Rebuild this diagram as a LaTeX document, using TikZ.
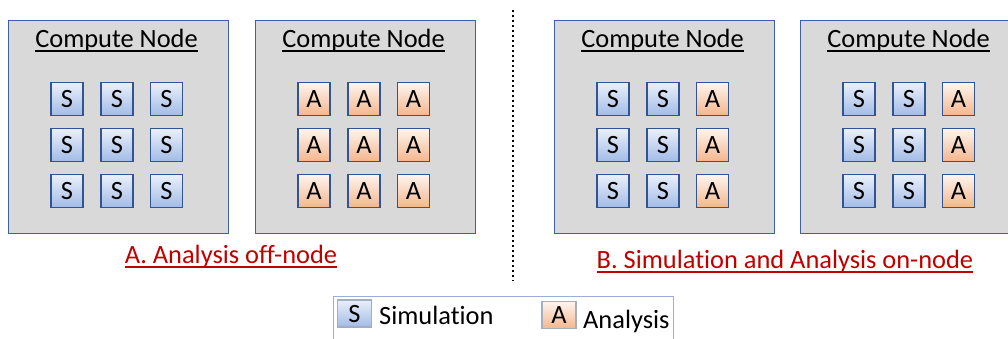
\documentclass[tikz,border=0pt]{standalone}
\usepackage{fontspec}
\setmainfont[Ligatures=NoCommon]{Carlito}
\usetikzlibrary{positioning}

\definecolor{boxgray}{HTML}{D9D9D9}
\definecolor{boxedge}{HTML}{3B61AD}
\definecolor{unitedge}{HTML}{2F5597}
\definecolor{simtop}{HTML}{EAF0FA}
\definecolor{simbot}{HTML}{A2BBE6}
\definecolor{anatop}{HTML}{FEF5F0}
\definecolor{anabot}{HTML}{F4B68C}
\definecolor{keyedge}{HTML}{9AAED6}
\definecolor{capred}{HTML}{C00000}

\newcommand{\cnfont}{\fontsize{26.4}{30}\selectfont}
\newcommand{\ulined}[2]{\setbox0\hbox{#2}\rlap{\rule[-#1]{\wd0}{1.6pt}}\box0}

\tikzset{
  computenode/.style={draw=boxedge, line width=1.2pt, fill=boxgray, anchor=north west,
    minimum width=220pt, minimum height=213pt, inner sep=0pt},
  cntitle/.style={font=\cnfont, anchor=base, inner sep=0pt},
  unit/.style={draw=unitedge, line width=1.1pt, minimum width=32pt, minimum height=33pt,
    inner sep=0pt, text height=17pt, text depth=0pt, font=\cnfont},
  unitS/.style={unit, top color=simtop, bottom color=simbot},
  unitA/.style={unit, top color=anatop, bottom color=anabot},
  keyunit/.style={minimum width=34pt, minimum height=27pt, draw=keyedge!80!black!70},
  keytext/.style={font=\cnfont, anchor=base west, inner sep=0pt},
  caption/.style={font=\cnfont, text=capred, anchor=base, inner sep=0pt},
  divider/.style={line width=2pt, dash pattern=on 2pt off 3pt},
  keyframe/.style={draw=keyedge, line width=1pt, anchor=north west, fill=white,
    minimum width=340pt, minimum height=70pt, inner sep=0pt}
}

\begin{document}
\begin{tikzpicture}[x=1pt,y=-1pt]
\useasboundingbox (0,0) rectangle (1008,339);
\clip (0,0) rectangle (1008,339);
\fill[white] (0,0) rectangle (1008,339);

% compute nodes with their units
\foreach \b/\xl/\ka/\kb/\kc in {1/8/S/S/S, 2/255/A/A/A, 3/554/S/S/A, 4/800/S/S/A}{
  \node[computenode] (cn\b) at (\xl,20) {};
  \node[cntitle] (title\b) at (\xl+108.5,48) {\ulined{4pt}{Compute Node}};
  \foreach \c/\dx/\k in {1/59/\ka, 2/109/\kb, 3/158.5/\kc}{
    \foreach \r/\y in {1/99, 2/145, 3/191}{
      \node[unit\k] (u-\b-\r-\c) at (\xl+\dx,\y) {\k};
    }
  }
}

% divider between the two set-ups
\coordinate (divtop) at (513,10);
\coordinate (divbot) at (513,281);
\draw[divider] (divtop) -- (divbot);

% captions
\node[caption] (capA) at (231,263) {\ulined{5pt}{A. Analysis off-node}};
\node[caption] (capB) at (785,268) {\ulined{5pt}{B. Simulation and Analysis on-node}};

% legend
\node[keyframe] (legend) at (333,296) {};
\node[unitS, keyunit] (keyS) at (354.5,313.5) {S};
\node[keytext] (simtext) at (379,324) {Simulation};
\node[unitA, keyunit] (keyA) at (559,315) {A};
\node[keytext] (anatext) at (583,328) {Analysis};
\end{tikzpicture}
\end{document}
